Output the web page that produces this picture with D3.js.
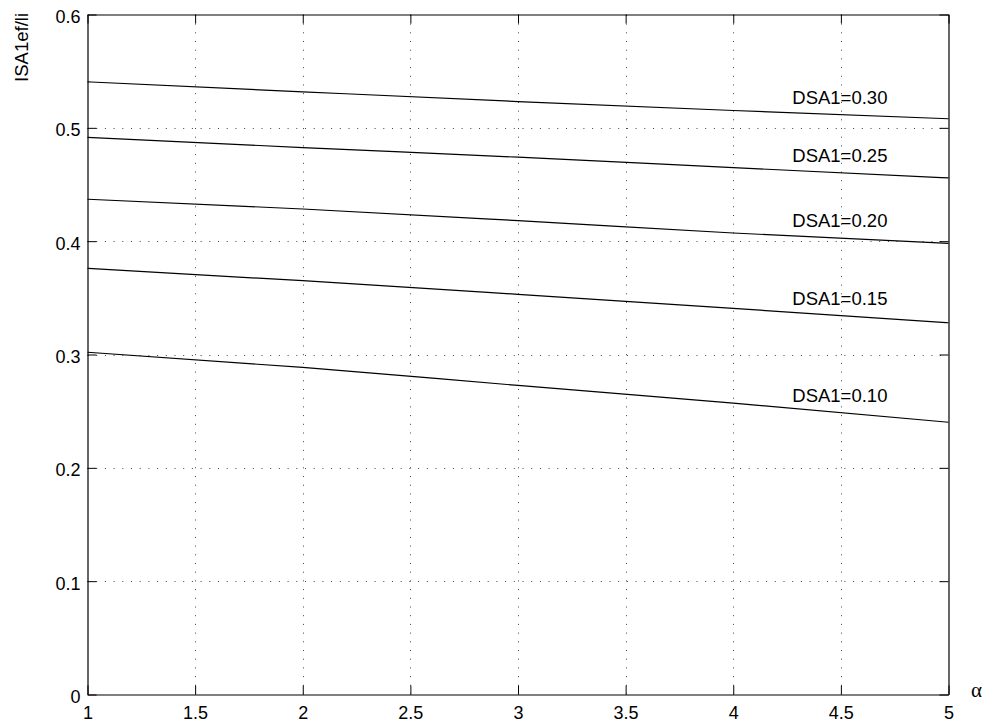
<!DOCTYPE html>
<html>
<head>
<meta charset="utf-8">
<script src="https://cdn.jsdelivr.net/npm/d3@7"></script>
<style>
  html, body { margin: 0; padding: 0; background: #fff; }
  svg text { font-family: "Liberation Sans", Arial, Helvetica, sans-serif; fill: #000; }
</style>
</head>
<body>
<svg id="chart" width="988" height="724"></svg>
<script>
// alpha values at which each curve was sampled
const alphaValues = [1, 2, 3, 4, 5];

// ISA1ef/li for each DSA1 level
const seriesNames = ["DSA1=0.30", "DSA1=0.25", "DSA1=0.20", "DSA1=0.15", "DSA1=0.10"];
const dsa030 = [0.5406, 0.5318, 0.5232, 0.5153, 0.5080];
const dsa025 = [0.4915, 0.4826, 0.4741, 0.4649, 0.4558];
const dsa020 = [0.4370, 0.4284, 0.4181, 0.4072, 0.3980];
const dsa015 = [0.3760, 0.3651, 0.3531, 0.3407, 0.3280];
const dsa010 = [0.3020, 0.2886, 0.2727, 0.2571, 0.2402];
const seriesValues = [dsa030, dsa025, dsa020, dsa015, dsa010];

// axis ticks
const xTicks = [1, 1.5, 2, 2.5, 3, 3.5, 4, 4.5, 5];
const yTicks = [0, 0.1, 0.2, 0.3, 0.4, 0.5, 0.6];
const labelAlpha = 4.5;

const svg = d3.select("#chart");
const L = 87.5, R = 948.5, T = 14.5, B = 694.5;

const x = d3.scaleLinear().domain([1, 5]).range([L, R]);
const y = d3.scaleLinear().domain([0, 0.6]).range([B, T]);

// dotted grid
const grid = svg.append("g")
  .attr("stroke", "#444").attr("stroke-width", 1).attr("stroke-dasharray", "1,7.7");
xTicks.slice(1, -1).forEach(v => {
  grid.append("line").attr("x1", Math.round(x(v)) + 0.5).attr("x2", Math.round(x(v)) + 0.5)
    .attr("y1", B).attr("y2", T);
});
yTicks.slice(1, -1).forEach(v => {
  grid.append("line").attr("y1", Math.round(y(v)) + 0.5).attr("y2", Math.round(y(v)) + 0.5)
    .attr("x1", L).attr("x2", R);
});

// axes with inward ticks on all four sides
const tickLen = 9;
const fmt = d => d3.format("")(d);
svg.append("g").attr("transform", `translate(0,${B})`)
  .call(d3.axisBottom(x).tickValues(xTicks).tickSizeInner(-tickLen).tickSizeOuter(0).tickPadding(12).tickFormat(fmt))
  .call(g => g.selectAll("text").attr("font-size", 18).attr("font-family", "Liberation Sans, Arial, sans-serif"));
svg.append("g").attr("transform", `translate(0,${T})`)
  .call(d3.axisTop(x).tickValues(xTicks).tickSizeInner(-tickLen).tickSizeOuter(0).tickFormat(""));
svg.append("g").attr("transform", `translate(${L},0)`)
  .call(d3.axisLeft(y).tickValues(yTicks).tickSizeInner(-tickLen).tickSizeOuter(0).tickPadding(7).tickFormat(fmt))
  .call(g => g.selectAll("text").attr("font-size", 18).attr("dy", "0.45em").attr("font-family", "Liberation Sans, Arial, sans-serif"));
svg.append("g").attr("transform", `translate(${R},0)`)
  .call(d3.axisRight(y).tickValues(yTicks).tickSizeInner(-tickLen).tickSizeOuter(0).tickFormat(""));
svg.selectAll(".domain").attr("stroke", "#000").attr("stroke-width", 1.2);
svg.selectAll(".tick line").attr("stroke", "#000");

// curves
const line = d3.line().x((d, i) => x(alphaValues[i])).y(d => y(d)).curve(d3.curveMonotoneX);
svg.append("g").selectAll("path").data(seriesValues).join("path")
  .attr("d", line).attr("fill", "none").attr("stroke", "#000").attr("stroke-width", 1.2);

// curve labels, centred above each curve
const interp = (vals, a) => {
  const i = Math.min(alphaValues.length - 2, Math.floor(a - alphaValues[0]));
  const t = (a - alphaValues[i]) / (alphaValues[i + 1] - alphaValues[i]);
  return vals[i] + t * (vals[i + 1] - vals[i]);
};
svg.append("g").selectAll("text").data(seriesValues).join("text")
  .attr("x", x(labelAlpha) - 1)
  .attr("y", d => y(interp(d, labelAlpha)) - 11)
  .attr("text-anchor", "middle").attr("font-size", 18.5)
  .text((d, i) => seriesNames[i]);

// axis titles
svg.append("text").attr("transform", "translate(28,13) rotate(-90)")
  .attr("text-anchor", "end").attr("font-size", 18.5).text("ISA1ef/li");
svg.append("text").attr("x", 971).attr("y", 697)
  .attr("font-size", 21).style("font-family", "'Liberation Serif', 'DejaVu Serif', serif").text("α");
</script>
</body>
</html>
